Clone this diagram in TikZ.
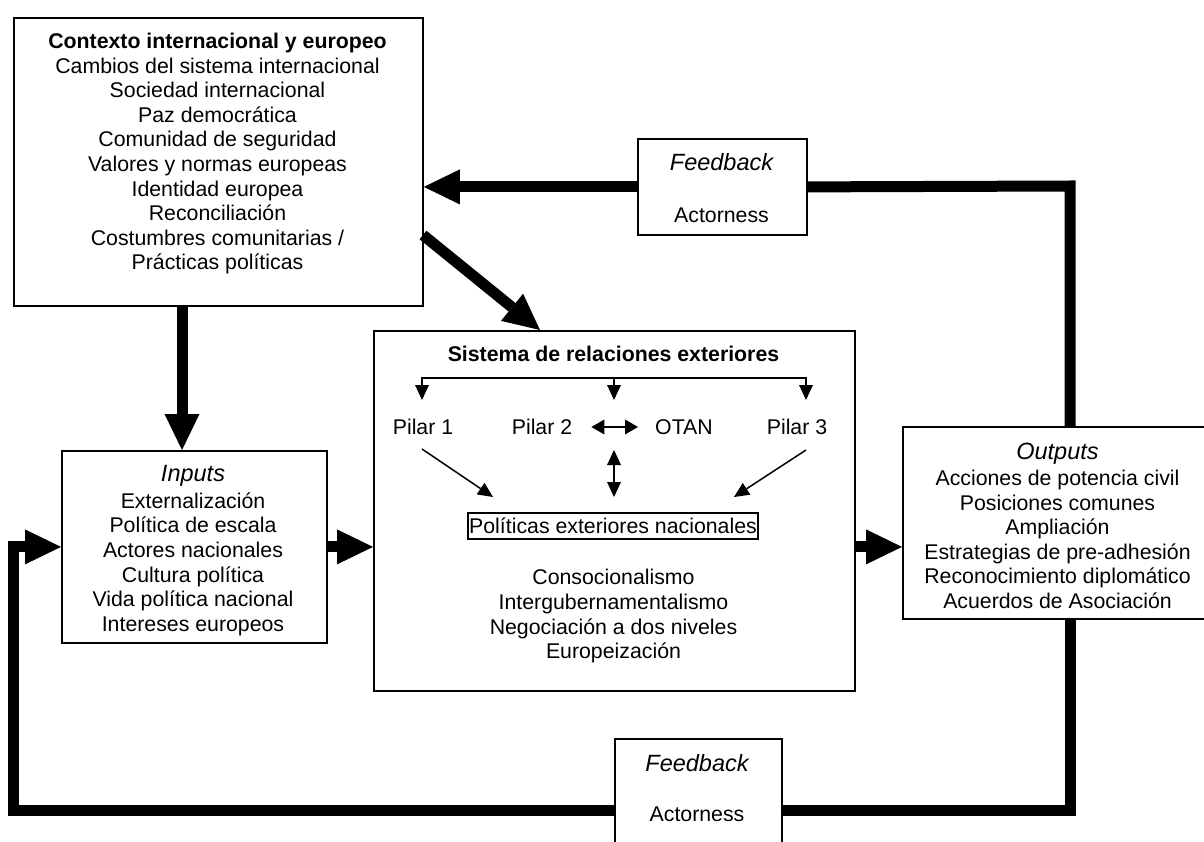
\documentclass[tikz,border=0pt]{standalone}
\usepackage{fontspec}
\setmainfont{Liberation Sans}
\usetikzlibrary{arrows.meta,calc}
\begin{document}
\begin{tikzpicture}[x=1pt,y=-1pt,
  box/.style={draw,line width=1.8pt,inner sep=0pt,anchor=north west},
  txt/.style={font=\fontsize{21.3}{24.6}\selectfont,align=center,inner sep=0pt,anchor=north},
  lbl/.style={font=\fontsize{21.3}{24.6}\selectfont,inner sep=0pt},
  bigarrow/.style={line width=11pt,line join=miter,-{Triangle[length=36pt,width=35pt,line width=0pt]}},
  bigline/.style={line width=11pt,line join=miter},
  thinline/.style={line width=1.5pt},
  thinarrow/.style={line width=1.5pt,-{Triangle[length=15pt,width=14pt,line width=0pt]}},
  boththin/.style={line width=1.5pt,{Triangle[length=15pt,width=14pt,line width=0pt]}-{Triangle[length=15pt,width=14pt,line width=0pt]}},
  dblarrow/.style={line width=1.5pt,{Triangle[length=13pt,width=15pt,line width=0pt]}-{Triangle[length=13pt,width=15pt,line width=0pt]}},
]
\clip (0,0) rectangle (1204,842);
\fill[white] (0,0) rectangle (1204,842);

% boxes
\node[box,minimum width=409pt,minimum height=288pt] (ctx) at (13,17) {};
\node[box,minimum width=169pt,minimum height=96pt] (fbtop) at (637,138) {};
\node[box,minimum width=481pt,minimum height=360pt] (ext) at (373,330) {};
\node[box,minimum width=265pt,minimum height=192pt] (inp) at (61,450) {};
\node[box,minimum width=310pt,minimum height=192pt] (out) at (902,426) {};
\node[box,minimum width=167pt,minimum height=122pt] (fbbot) at (614,738) {};
\node[draw,line width=1.8pt,inner sep=0pt,minimum width=290pt,minimum height=26pt,font=\fontsize{21.3}{24.6}\selectfont] (pol) at (613,526) {Políticas exteriores nacionales};

% texts
\node[txt] (ctxt) at (217.5,32.8) {\textbf{Contexto internacional y europeo}\\Cambios del sistema internacional\\Sociedad internacional\\Paz democrática\\Comunidad de seguridad\\Valores y normas europeas\\Identidad europea\\Reconciliación\\Costumbres comunitarias /\\Prácticas políticas};
\node[txt] (fbtt) at (721.5,153.6) {{\fontsize{23.5}{24.6}\selectfont\itshape Feedback}\\[26.7pt]Actorness};
\node[txt] (fbbt) at (697,754.3) {{\fontsize{23.5}{24.6}\selectfont\itshape Feedback}\\[25.3pt]Actorness};
\node[txt] (inpt) at (193,465.6) {{\fontsize{23.5}{24.6}\selectfont\itshape Inputs}\\[1.7pt]Externalización\\Política de escala\\Actores nacionales\\Cultura política\\Vida política nacional\\Intereses europeos};
\node[txt] (outt) at (1057.5,442.6) {{\fontsize{23.5}{24.6}\selectfont\itshape Outputs}\\[1.7pt]Acciones de potencia civil\\Posiciones comunes\\Ampliación\\Estrategias de pre-adhesión\\Reconocimiento diplomático\\Acuerdos de Asociación};
\node[txt] (extt) at (613.5,346.3) {\textbf{Sistema de relaciones exteriores}};
\node[txt] (extb) at (613.5,569.3) {Consocionalismo\\Intergubernamentalismo\\Negociación a dos niveles\\Europeización};

\node[lbl] (p1) at (423,427) {Pilar 1};
\node[lbl] (p2) at (542,427) {Pilar 2};
\node[lbl] (otan) at (684,427) {OTAN};
\node[lbl] (p3) at (797,427) {Pilar 3};

% inner connectors
\coordinate (a1) at (422,400);
\coordinate (a2) at (614,400);
\coordinate (a3) at (806,400);
\coordinate (b2) at (614,378);
\draw[boththin] (a1) |- (b2) -| (a3);
\draw[thinarrow] (b2) -- (a2);
\draw[dblarrow,shorten <=19pt,shorten >=17pt] (p2.east) -- (otan.west);
\coordinate (v1) at (614,450);
\coordinate (v2) at (614,497);
\draw[boththin] (v1) -- (v2);
\coordinate (s1) at (422,449);
\coordinate (e1) at (493,497);
\draw[thinarrow] (s1) -- (e1);
\coordinate (s3) at (806,450);
\coordinate (e3) at (734,497);
\draw[thinarrow] (s3) -- (e3);

% thick connectors
\coordinate (rt) at (1070,186);
\coordinate (rb) at (1070,810);
\coordinate (lb) at (13,810);
\coordinate (dn) at (182,0);
\coordinate (d0) at (423,235);
\coordinate (dx) at (540,0);
\draw[bigarrow] (fbtop.west) -- (fbtop.west -| ctx.east);
\draw[bigline] (fbtop.east) -- (rt) -- (rt |- out.north);
\draw[bigline] (rb |- out.south) -- (rb) -- (fbbot.east |- rb);
\draw[bigarrow] (fbbot.west |- lb) -- (lb) -- (lb |- inp.west) -- (inp.west);
\draw[bigarrow] (ctx.south -| dn) -- (inp.north -| dn);
\draw[bigarrow] (inp.east) -- (inp.east -| ext.west);
\draw[bigarrow] (ext.east |- inp.east) -- (out.west |- inp.east);
\draw[bigarrow] (d0) -- (dx |- ext.north);
\end{tikzpicture}
\end{document}
